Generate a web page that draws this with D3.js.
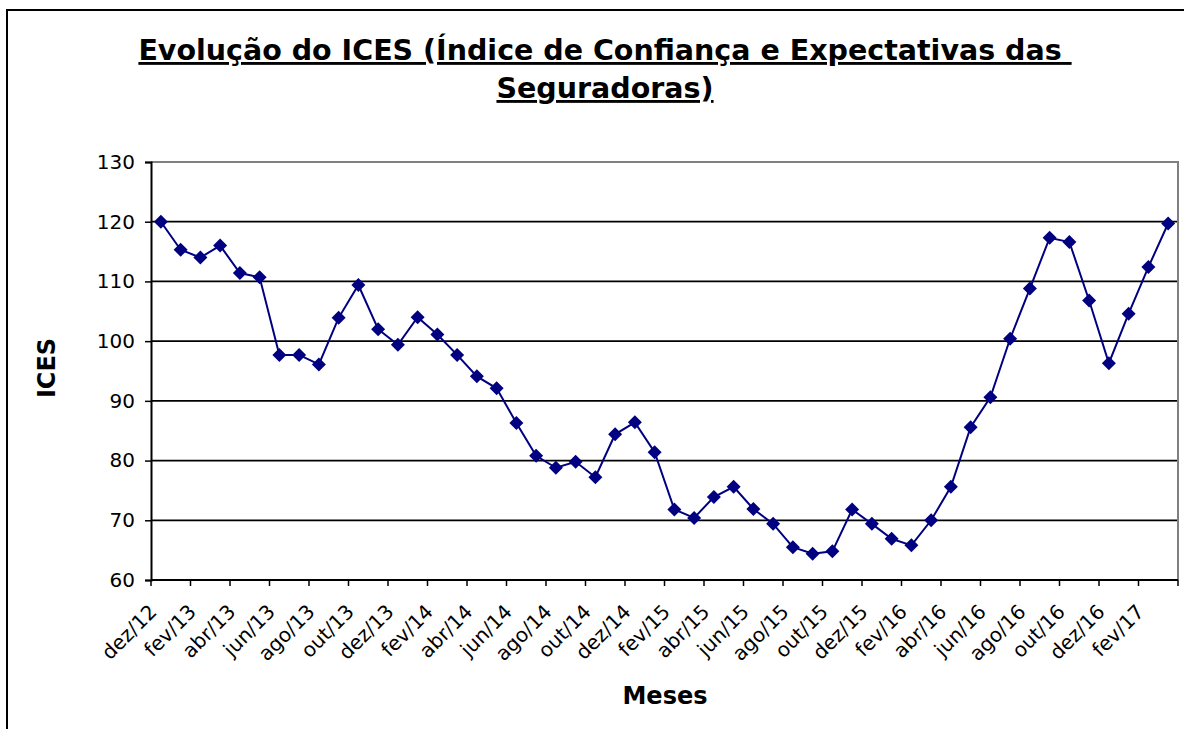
<!DOCTYPE html>
<html>
<head>
<meta charset="utf-8">
<script src="https://cdn.jsdelivr.net/npm/d3@7"></script>
<style>
  html, body { margin: 0; padding: 0; background: #fff; }
  svg { display: block; font-family: "DejaVu Sans", Verdana, sans-serif; }
</style>
</head>
<body>
<svg id="chart"></svg>
<script>
// meses (dez/12 .. mar/17)
const months = [
  'dez/12','jan/13','fev/13','mar/13','abr/13','mai/13','jun/13','jul/13','ago/13','set/13','out/13','nov/13',
  'dez/13','jan/14','fev/14','mar/14','abr/14','mai/14','jun/14','jul/14','ago/14','set/14','out/14','nov/14',
  'dez/14','jan/15','fev/15','mar/15','abr/15','mai/15','jun/15','jul/15','ago/15','set/15','out/15','nov/15',
  'dez/15','jan/16','fev/16','mar/16','abr/16','mai/16','jun/16','jul/16','ago/16','set/16','out/16','nov/16',
  'dez/16','jan/17','fev/17','mar/17'
];
const ices = [
  120.0, 115.3, 114.0, 116.0, 111.4, 110.7, 97.7, 97.7, 96.1, 103.9, 109.4, 102.0,
  99.4, 104.0, 101.1, 97.7, 94.1, 92.1, 86.3, 80.8, 78.8, 79.8, 77.2, 84.4,
  86.4, 81.4, 71.8, 70.4, 73.9, 75.6, 71.9, 69.4, 65.5, 64.4, 64.8, 71.8,
  69.4, 66.9, 65.8, 70.0, 75.6, 85.6, 90.6, 100.4, 108.8, 117.3, 116.6, 106.8,
  96.3, 104.6, 112.4, 119.7
];
const yTicks = [60, 70, 80, 90, 100, 110, 120, 130];
const titleLines = ['Evolução do ICES (Índice de Confiança e Expectativas das ', 'Seguradoras)'];

const W = 1184, H = 729;
const m = { top: 162, right: 6, bottom: 149, left: 151 };
const cW = W - m.left - m.right;
const cH = H - m.top - m.bottom;

const svg = d3.select('#chart').attr('width', W).attr('height', H);

// borda externa
svg.append('rect').attr('x', 7).attr('y', 10).attr('width', W + 20).attr('height', H + 20)
  .attr('fill', 'none').attr('stroke', '#000').attr('stroke-width', 2);

// título
const title = svg.append('text').attr('text-anchor', 'middle')
  .style('font-size', '28.5px').style('font-weight', 'bold')
  .style('text-decoration', 'underline').style('white-space', 'pre');
titleLines.forEach((t, i) => {
  title.append('tspan').attr('x', 605).attr('y', 60 + i * 38).text(t);
});

const g = svg.append('g').attr('transform', `translate(${m.left},${m.top})`);

const x = d3.scaleBand().domain(months).range([0, cW]);
const y = d3.scaleLinear().domain([60, 130]).range([cH, 0]);

// grade
g.append('g').selectAll('line').data(yTicks.filter(t => t > 60 && t < 130)).join('line')
  .attr('x1', 0).attr('x2', cW).attr('y1', d => y(d)).attr('y2', d => y(d))
  .attr('stroke', '#000').attr('stroke-width', 1.8);

// moldura cinza (topo e direita)
g.append('path').attr('d', `M0,${y(130)}H${cW}V${cH}`)
  .attr('fill', 'none').attr('stroke', '#808080').attr('stroke-width', 2);

// eixo y
const yAxis = g.append('g')
  .call(d3.axisLeft(y).tickValues(yTicks).tickSize(6).tickPadding(10));
yAxis.selectAll('text').style('font-size', '20px').style('fill', '#000')
  .style('font-family', '"DejaVu Sans", Verdana, sans-serif');

// eixo x
const xAxis = g.append('g').attr('transform', `translate(0,${cH})`);
const tickIdx = months.map((d, i) => i).filter(i => i % 2 === 0).concat([months.length]);
xAxis.append('g').selectAll('line').data(tickIdx).join('line')
  .attr('x1', i => i < months.length ? x(months[i]) : cW)
  .attr('x2', i => i < months.length ? x(months[i]) : cW)
  .attr('y1', 0).attr('y2', 6).attr('stroke', '#000').attr('stroke-width', 1.5);
xAxis.append('line').attr('x1', 0).attr('x2', cW).attr('stroke', '#000').attr('stroke-width', 2);
xAxis.append('g').selectAll('text').data(months.filter((d, i) => i % 2 === 0)).join('text')
  .attr('transform', d => `translate(${x(d) + x.bandwidth() / 2 - 3},${33}) rotate(-45)`)
  .attr('text-anchor', 'end').style('font-size', '20px').text(d => d);

yAxis.selectAll('.domain').attr('stroke', '#000').attr('stroke-width', 2);
yAxis.selectAll('.tick line').attr('stroke', '#000').attr('stroke-width', 1.5);

// série
const cx = (d, i) => x(months[i]) + x.bandwidth() / 2;
const line = d3.line().x(cx).y(d => y(d));
g.append('path').datum(ices).attr('d', line)
  .attr('fill', 'none').attr('stroke', '#000080').attr('stroke-width', 2);
const r = 7;
g.append('g').selectAll('path').data(ices).join('path')
  .attr('d', (d, i) => {
    const px = cx(d, i), py = y(d);
    return `M${px},${py - r}L${px + r},${py}L${px},${py + r}L${px - r},${py}Z`;
  })
  .attr('fill', '#000080');

// títulos dos eixos
svg.append('text').attr('transform', 'translate(55,368) rotate(-90)')
  .attr('text-anchor', 'middle').style('font-size', '24px').style('font-weight', 'bold').text('ICES');
svg.append('text').attr('x', 665).attr('y', 704)
  .attr('text-anchor', 'middle').style('font-size', '24px').style('font-weight', 'bold').text('Meses');
</script>
</body>
</html>
